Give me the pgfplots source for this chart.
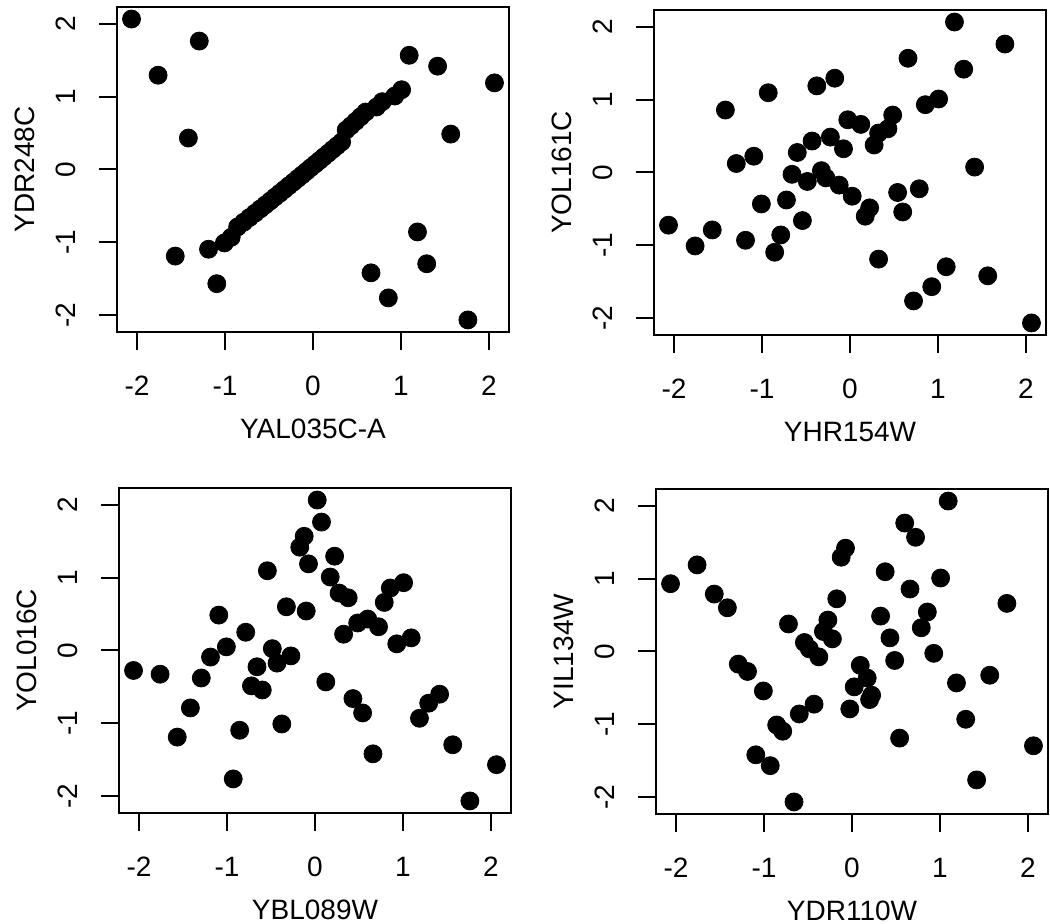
\documentclass[border=0pt]{standalone}
\usepackage{fontspec}
\setmainfont{Liberation Sans}
\usepackage{pgfplots}
\pgfplotsset{compat=1.18}
\pgfplotsset{
  rpanel/.style={
    scale only axis, width=196pt, height=162.5pt,
    xmin=-2.227, xmax=2.227, ymin=-2.227, ymax=2.227,
    xtick={-2,-1,0,1,2}, ytick={-2,-1,0,1,2},
    xticklabels={-2,-1,0,1,2}, yticklabels={-2,-1,0,1,2},
    tick pos=left, tick align=outside, major tick length=9pt,
    axis line style={line width=1pt},
    major tick style={line width=1pt, black},
    font=\fontsize{14}{17}\selectfont,
    xticklabel style={anchor=center, yshift=-18pt},
    yticklabel style={xshift=-16.5pt, rotate=90, anchor=center},
    xlabel style={at={(axis description cs:0.5,-0.298)}, anchor=center},
    ylabel style={at={(axis description cs:-0.236,0.5)}, anchor=center},
  },
  dots/.style={only marks, mark=*, mark size=4.5pt, black, mark options={fill=black}},
}
\begin{document}
\begin{tikzpicture}
\path[use as bounding box] (0,0) rectangle (525pt,462pt);

\begin{axis}[rpanel, at={(58.5pt,296pt)}, anchor=south west,
  xlabel={YAL035C-A}, ylabel={YDR248C}]
\addplot[dots] coordinates {
  (-2.062,2.062) (-1.292,1.760) (-1.760,1.292) (-1.416,0.431)
  (-1.565,-1.187) (-1.187,-1.093) (-1.093,-1.565) (1.093,1.565)
  (1.416,1.416) (2.062,1.187) (1.565,0.485) (1.187,-0.856)
  (1.292,-1.292) (0.659,-1.416) (0.856,-1.760) (1.760,-2.062)
  (-1.007,-1.007) (-0.929,-0.929) (-0.856,-0.787) (-0.787,-0.722)
  (-0.722,-0.659) (-0.659,-0.599) (-0.599,-0.541) (-0.541,-0.485)
  (-0.485,-0.431) (-0.431,-0.377) (-0.377,-0.325) (-0.325,-0.274)
  (-0.274,-0.223) (-0.223,-0.173) (-0.173,-0.123) (-0.123,-0.074)
  (-0.074,-0.025) (-0.025,0.025) (0.025,0.074) (0.074,0.123)
  (0.123,0.173) (0.173,0.223) (0.223,0.274) (0.274,0.325)
  (0.325,0.377) (0.377,0.541) (0.431,0.599) (0.485,0.659)
  (0.541,0.722) (0.599,0.787) (0.722,0.856) (0.787,0.929)
  (0.929,1.007) (1.007,1.093)
};
\end{axis}

\begin{axis}[rpanel, at={(327pt,294.5pt)}, anchor=south west,
  xlabel={YHR154W}, ylabel={YOL161C}]
\addplot[dots] coordinates {
  (1.187,2.062) (1.760,1.760) (0.659,1.565) (1.292,1.416)
  (-0.173,1.292) (-0.377,1.187) (-0.929,1.093) (-1.416,0.856)
  (1.007,1.007) (0.856,0.929) (0.485,0.787) (-0.025,0.722)
  (0.123,0.659) (0.431,0.599) (0.325,0.541) (-0.223,0.485)
  (-0.431,0.431) (0.274,0.377) (-0.074,0.325) (-0.599,0.274)
  (-1.093,0.223) (-1.292,0.123) (1.416,0.074) (-0.659,-0.025)
  (-0.325,0.025) (-0.274,-0.074) (-0.485,-0.123) (-0.123,-0.173)
  (0.025,-0.325) (0.541,-0.274) (0.787,-0.223) (0.223,-0.485)
  (0.173,-0.599) (0.599,-0.541) (-1.007,-0.431) (-0.722,-0.377)
  (-0.541,-0.659) (-2.062,-0.722) (-1.565,-0.787) (-1.760,-1.007)
  (-1.187,-0.929) (-0.787,-0.856) (-0.856,-1.093) (0.325,-1.187)
  (1.093,-1.292) (0.929,-1.565) (0.722,-1.760) (1.565,-1.416)
  (2.062,-2.062)
};
\end{axis}

\begin{axis}[rpanel, at={(59.5pt,55.5pt)}, anchor=south west,
  xlabel={YBL089W}, ylabel={YOL016C}]
\addplot[dots] coordinates {
  (0.025,2.062) (0.074,1.760) (-0.123,1.565) (-0.173,1.416)
  (0.223,1.292) (-0.074,1.187) (-0.541,1.093) (0.173,1.007)
  (0.274,0.787) (0.377,0.722) (1.007,0.929) (0.856,0.856)
  (0.787,0.659) (-0.325,0.599) (-0.100,0.541) (-1.093,0.485)
  (-0.787,0.250) (-1.007,0.050) (-1.187,-0.090) (-2.062,-0.274)
  (-1.760,-0.325) (-1.292,-0.377) (-1.416,-0.787) (-1.565,-1.187)
  (-0.856,-1.093) (-0.929,-1.760) (-0.377,-1.007) (-0.659,-0.223)
  (-0.722,-0.485) (-0.599,-0.541) (-0.485,0.025) (-0.431,-0.173)
  (-0.274,-0.074) (0.123,-0.431) (0.325,0.223) (0.485,0.377)
  (0.599,0.431) (0.722,0.325) (0.929,0.091) (1.093,0.173)
  (0.431,-0.659) (0.541,-0.856) (0.659,-1.416) (1.416,-0.599)
  (1.292,-0.722) (1.187,-0.929) (1.565,-1.292) (2.062,-1.565)
  (1.760,-2.062)
};
\end{axis}

\begin{axis}[rpanel, at={(328pt,55pt)}, anchor=south west,
  xlabel={YDR110W}, ylabel={YIL134W}]
\addplot[dots] coordinates {
  (1.093,2.062) (0.599,1.760) (0.722,1.565) (-0.074,1.416)
  (-0.123,1.292) (-1.760,1.187) (-2.062,0.929) (0.377,1.093)
  (1.007,1.007) (0.659,0.856) (-1.565,0.787) (-1.416,0.599)
  (-0.173,0.722) (1.760,0.659) (0.325,0.485) (0.856,0.541)
  (-0.274,0.431) (-0.722,0.377) (-0.325,0.274) (-0.223,0.173)
  (0.787,0.325) (0.431,0.187) (-0.541,0.123) (-0.485,0.036)
  (-0.377,-0.074) (0.929,-0.025) (0.485,-0.123) (-1.292,-0.173)
  (-1.187,-0.274) (0.094,-0.190) (0.173,-0.364) (0.025,-0.485)
  (0.223,-0.599) (0.200,-0.659) (-0.025,-0.787) (-1.007,-0.541)
  (-0.431,-0.722) (-0.599,-0.856) (-0.856,-1.007) (-0.787,-1.093)
  (-1.093,-1.416) (-0.929,-1.565) (-0.659,-2.062) (1.187,-0.431)
  (1.565,-0.325) (1.292,-0.929) (0.541,-1.187) (1.416,-1.760)
  (2.062,-1.292)
};
\end{axis}
\end{tikzpicture}
\end{document}
